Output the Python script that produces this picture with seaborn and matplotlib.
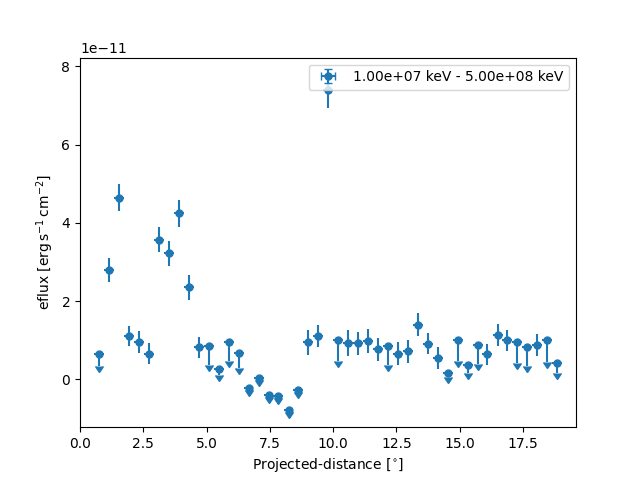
import numpy as np
import matplotlib
matplotlib.use("Agg")
import matplotlib.pyplot as plt
import seaborn as sns

# --- data (flux in units of 1e-11) ---
distance_deg = [0.76, 1.16, 1.55, 1.94, 2.34, 2.73, 3.12, 3.52, 3.91, 4.30,
                4.70, 5.09, 5.48, 5.88, 6.27, 6.66, 7.06, 7.45, 7.84, 8.24,
                8.63, 9.02, 9.42, 9.81, 10.20, 10.60, 10.99, 11.38, 11.78, 12.17,
                12.56, 12.96, 13.35, 13.74, 14.14, 14.53, 14.92, 15.32, 15.71, 16.10,
                16.50, 16.89, 17.28, 17.68, 18.07, 18.46, 18.86]
half_bin_deg = 0.196

eflux = [0.64, 2.79, 4.64, 1.11, 0.96, 0.66, 3.57, 3.22, 4.24, 2.35,
         0.82, 0.85, 0.27, 0.95, 0.68, -0.21, 0.04, -0.40, -0.43, -0.79,
         -0.27, 0.95, 1.11, 7.38, 1.00, 0.92, 0.92, 0.98, 0.77, 0.85,
         0.66, 0.72, 1.40, 0.91, 0.55, 0.17, 1.00, 0.38, 0.88, 0.64,
         1.13, 1.00, 0.95, 0.83, 0.88, 1.00, 0.43]
eflux_err = [0.30, 0.30, 0.34, 0.26, 0.28, 0.26, 0.32, 0.31, 0.34, 0.31,
             0.26, 0.47, 0.16, 0.49, 0.39, 0.05, 0.05, 0.05, 0.05, 0.05,
             0.05, 0.32, 0.29, 0.44, 0.53, 0.33, 0.30, 0.30, 0.30, 0.49,
             0.29, 0.29, 0.29, 0.27, 0.28, 0.10, 0.52, 0.21, 0.49, 0.26,
             0.28, 0.27, 0.54, 0.48, 0.28, 0.55, 0.26]
is_upper_limit = [1, 0, 0, 0, 0, 0, 0, 0, 0, 0,
                  0, 1, 1, 1, 1, 1, 1, 1, 1, 1,
                  1, 0, 0, 0, 1, 0, 0, 0, 0, 1,
                  0, 0, 0, 0, 0, 1, 1, 1, 1, 0,
                  0, 0, 1, 1, 0, 1, 1]

band_label = "1.00e+07 keV - 5.00e+08 keV"
scale = 1e-11

x = np.array(distance_deg)
y = np.array(eflux) * scale
yerr = np.array(eflux_err) * scale
ul = np.array(is_upper_limit, dtype=bool)

color = sns.color_palette("tab10")[0]

fig, ax = plt.subplots(figsize=(6.4, 4.8), dpi=100)
ax.errorbar(x, y, xerr=half_bin_deg, yerr=yerr, uplims=ul,
            marker="o", markersize=5, linestyle="none", color=color,
            label=band_label)

ax.set_xlim(0, 19.6)
ax.set_ylim(-1.22e-11, 8.22e-11)
ax.set_xlabel(r"Projected-distance [$^{\circ}$]")
ax.set_ylabel(r"eflux [$\mathrm{erg\,s^{-1}\,cm^{-2}}$]")
ax.legend(loc="upper right")

fig.savefig("out.png", dpi=100)
